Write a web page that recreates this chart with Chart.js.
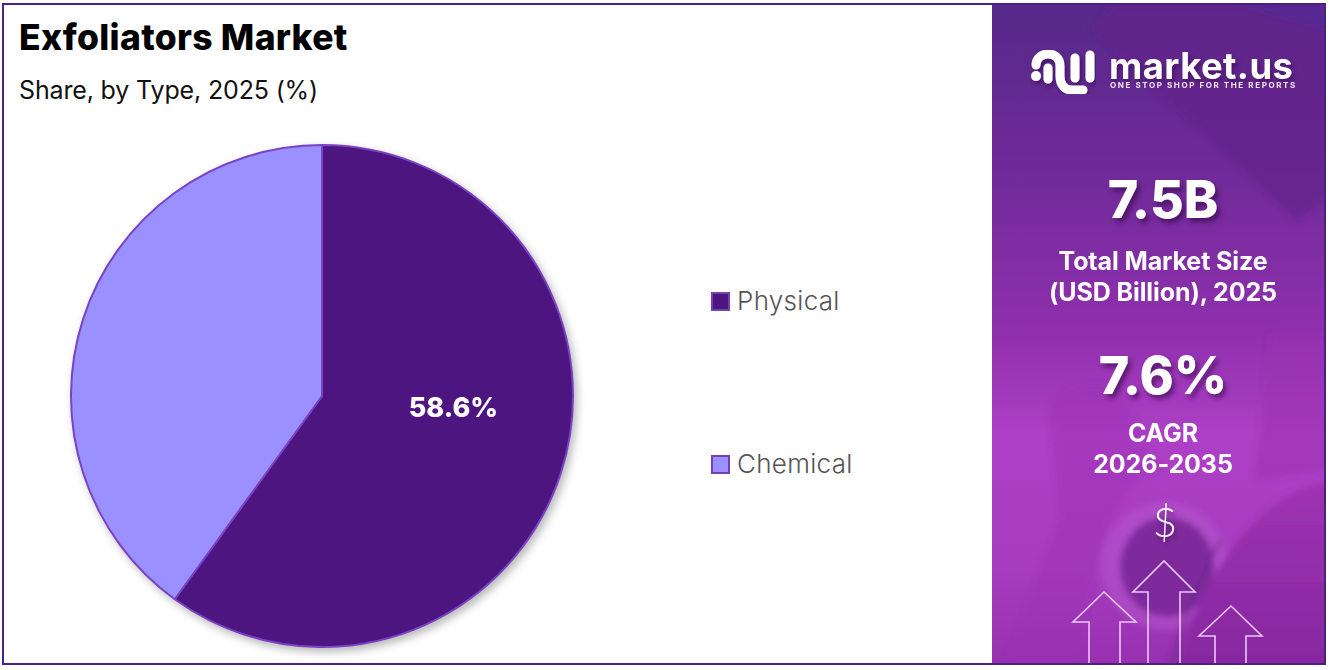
<!DOCTYPE html>
<html>
<head>
<meta charset="utf-8">
<title>Exfoliators Market</title>
<script src="https://cdn.jsdelivr.net/npm/chart.js@4"></script>
<style>
    html, body { margin: 0; padding: 0; background: #fff; }
    #page { position: relative; width: 1330px; height: 670px; overflow: hidden; font-family: Inter, sans-serif; }
    #frame { position: absolute; left: 2px; top: 3px; width: 1324px; height: 662px; box-sizing: border-box; border: 2px solid #4a2089; z-index: 5; }
    h1 { position: absolute; left: 19px; top: 16px; margin: 0; font-size: 35.5px; line-height: 44px; font-weight: 800; color: #000; letter-spacing: 0.3px; white-space: nowrap; }
    h2 { position: absolute; left: 19px; top: 72px; margin: 0; font-size: 25px; line-height: 36px; font-weight: 400; color: #111; letter-spacing: -0.15px; white-space: nowrap; }
    #pieBox { position: absolute; left: 70px; top: 144px; width: 504px; height: 504px; filter: drop-shadow(3px 4px 4px rgba(0,0,0,0.28)); }
    .legend { position: absolute; left: 711px; height: 36px; line-height: 36px; font-size: 26px; font-weight: 300; color: #555; white-space: nowrap; letter-spacing: 0.3px; }
    .legend i { position: absolute; left: 0; top: 9px; width: 19px; height: 19px; box-sizing: border-box; border: 2px solid #7440b4; }
    .legend span { position: absolute; left: 26px; }
    #panel { position: absolute; left: 992px; top: 4px; width: 334px; height: 660px; overflow: hidden; }
    #panel svg { position: absolute; left: -992px; top: -4px; }
    .t { position: absolute; left: 990px; width: 346px; text-align: center; color: #fff; z-index: 3; white-space: nowrap; }
    .big { font-size: 52px; line-height: 60px; font-weight: 800; text-shadow: 3px 4px 5px rgba(40,0,60,0.55); }
    .mid { font-size: 25px; line-height: 31px; font-weight: 700; letter-spacing: -0.1px; }
    #logo1 { position: absolute; left: 1109px; top: 46px; font-size: 36.5px; line-height: 40px; font-weight: 700; color: #fff; z-index: 3; letter-spacing: 0.4px; text-shadow: 2px 3px 4px rgba(40,0,60,0.45); }
    #logo2 { position: absolute; left: 1110px; top: 79px; font-size: 8px; line-height: 12px; font-weight: 700; color: #f4e6f8; z-index: 3; letter-spacing: 1.6px; }
    #dollar { position: absolute; left: 992px; width: 346px; top: 496px; text-align: center; font-family: Lato, sans-serif; font-weight: 300; font-size: 42px; line-height: 50px; color: #fff; z-index: 3; text-shadow: 2px 3px 4px rgba(40,0,60,0.4); }
</style>
</head>
<body>
<div id="page">
    <h1>Exfoliators Market</h1>
    <h2>Share, by Type, 2025 (%)</h2>
    <div id="pieBox"><canvas id="typeChart" width="504" height="504"></canvas></div>
    <div id="legendBox"></div>

    <div id="panel">
        <svg width="1330" height="670" xmlns="http://www.w3.org/2000/svg">
            <defs>
                <linearGradient id="bg" x1="0" y1="0" x2="0" y2="1">
                    <stop offset="0" stop-color="#55298a"/>
                    <stop offset="0.25" stop-color="#6f2a98"/>
                    <stop offset="0.5" stop-color="#9030ae"/>
                    <stop offset="0.65" stop-color="#ad40c6"/>
                    <stop offset="0.85" stop-color="#a63cc0"/>
                    <stop offset="1" stop-color="#9630ae"/>
                </linearGradient>
                <linearGradient id="head" x1="0" y1="0" x2="0" y2="1">
                    <stop offset="0" stop-color="#9e32b2"/>
                    <stop offset="1" stop-color="#85289f"/>
                </linearGradient>
                <filter id="blur"><feGaussianBlur stdDeviation="3"/></filter>
                <filter id="soft"><feDropShadow dx="2" dy="3" stdDeviation="2" flood-color="#28003c" flood-opacity="0.5"/></filter>
            </defs>
            <rect x="990" y="0" width="340" height="670" fill="url(#bg)"/>
            <!-- background photo shapes -->
            <g filter="url(#blur)">
                <polygon points="1093,30 1113,3 1330,3 1330,197 1297,220" fill="#62218a" opacity="0.7"/>
                <polygon points="1230,3 1330,3 1330,30" fill="#55309a" opacity="0.6"/>
                <polygon points="1270,335 1330,335 1330,470 1255,480" fill="#9a30ae" opacity="0.5"/>
                <path d="M1050,420 C1045,395 1085,375 1120,390 L1160,470 C1130,470 1090,530 1080,665 L1005,665 L1060,520 Z" fill="#9b32b2" opacity="0.4"/>
                <circle cx="1165" cy="566" r="64" fill="#b555cc" opacity="0.55"/>
                <ellipse cx="1167" cy="567" rx="47" ry="50" fill="#7f2a9c"/>
                <path d="M1330,482 C1262,492 1210,560 1172,670 L1330,670 Z" fill="url(#head)"/>
                <path d="M1222,540 C1200,570 1185,620 1170,665" fill="none" stroke="#6e2488" stroke-width="4" opacity="0.6"/>
            </g>
            <!-- growth arrows -->
            <g fill="none" stroke="#ecc8f4" stroke-width="1.6">
                <polyline points="1089,668 1089,622 1073,622 1104,592 1136,622 1120,622 1120,668"/>
                <polyline points="1148,668 1148,592 1133,592 1164,561 1195,592 1180,592 1180,668"/>
                <polyline points="1215,668 1215,636 1199,636 1231,606 1262,636 1246,636 1246,668"/>
            </g>
            <!-- logo mark -->
            <g fill="none" stroke="#fff" stroke-width="9" stroke-linecap="round" filter="url(#soft)">
                <path d="M1036,65 C1036,58 1042,54 1048,54 C1055,54 1060,58 1060,66 L1060,76 C1060,86 1066,90 1072,90 L1083,90"/>
                <path d="M1048,68 L1048,79"/>
                <path d="M1075,58 L1075,78"/>
                <path d="M1090,55 L1090,78"/>
                <path d="M1036,76 L1036,76.1" stroke-width="10"/>
            </g>
        </svg>
    </div>

    <div id="logo1">market.us</div>
    <div id="logo2">ONE STOP SHOP FOR THE REPORTS</div>
    <div class="t big" style="top:170px;">7.5B</div>
    <div class="t mid" style="top:246px;">Total Market Size<br>(USD Billion), 2025</div>
    <div class="t big" style="top:346px;">7.6%</div>
    <div class="t mid" style="top:418px;">CAGR<br>2026-2035</div>
    <div id="dollar">$</div>

    <div id="frame"></div>
</div>

<script>
// Chart data
const categories = ['Physical', 'Chemical'];
const shareValues = [58.6, 39.1];
const sliceColors = ['#4c1580', '#9a90ff'];
const labelledSlices = ['Physical'];
const legendTops = [283, 446];

// Legend next to the pie
const legendBox = document.getElementById('legendBox');
categories.forEach((name, i) => {
    const row = document.createElement('div');
    row.className = 'legend';
    row.style.top = legendTops[i] + 'px';
    row.innerHTML = `<i style="background:${sliceColors[i]}"></i><span>${name}</span>`;
    legendBox.appendChild(row);
});

// Write the share on the slices that carry a label
const sliceLabels = {
    id: 'sliceLabels',
    afterDatasetsDraw(chart) {
        const ctx = chart.ctx;
        chart.getDatasetMeta(0).data.forEach((arc, i) => {
            if (!labelledSlices.includes(categories[i])) return;
            const pos = arc.tooltipPosition();
            ctx.save();
            ctx.fillStyle = '#fff';
            ctx.font = '800 27px Inter, sans-serif';
            ctx.textAlign = 'center';
            ctx.textBaseline = 'middle';
            ctx.fillText(shareValues[i].toFixed(1) + '%', pos.x + 12, pos.y - 26);
            ctx.restore();
        });
    }
};

new Chart(document.getElementById('typeChart').getContext('2d'), {
    type: 'pie',
    data: {
        labels: categories,
        datasets: [{
            data: shareValues,
            backgroundColor: sliceColors,
            borderColor: '#7a42c4',
            borderWidth: 2
        }]
    },
    options: {
        responsive: false,
        animation: false,
        plugins: {
            legend: { display: false },
            tooltip: { enabled: false }
        }
    },
    plugins: [sliceLabels]
});
</script>
</body>
</html>
